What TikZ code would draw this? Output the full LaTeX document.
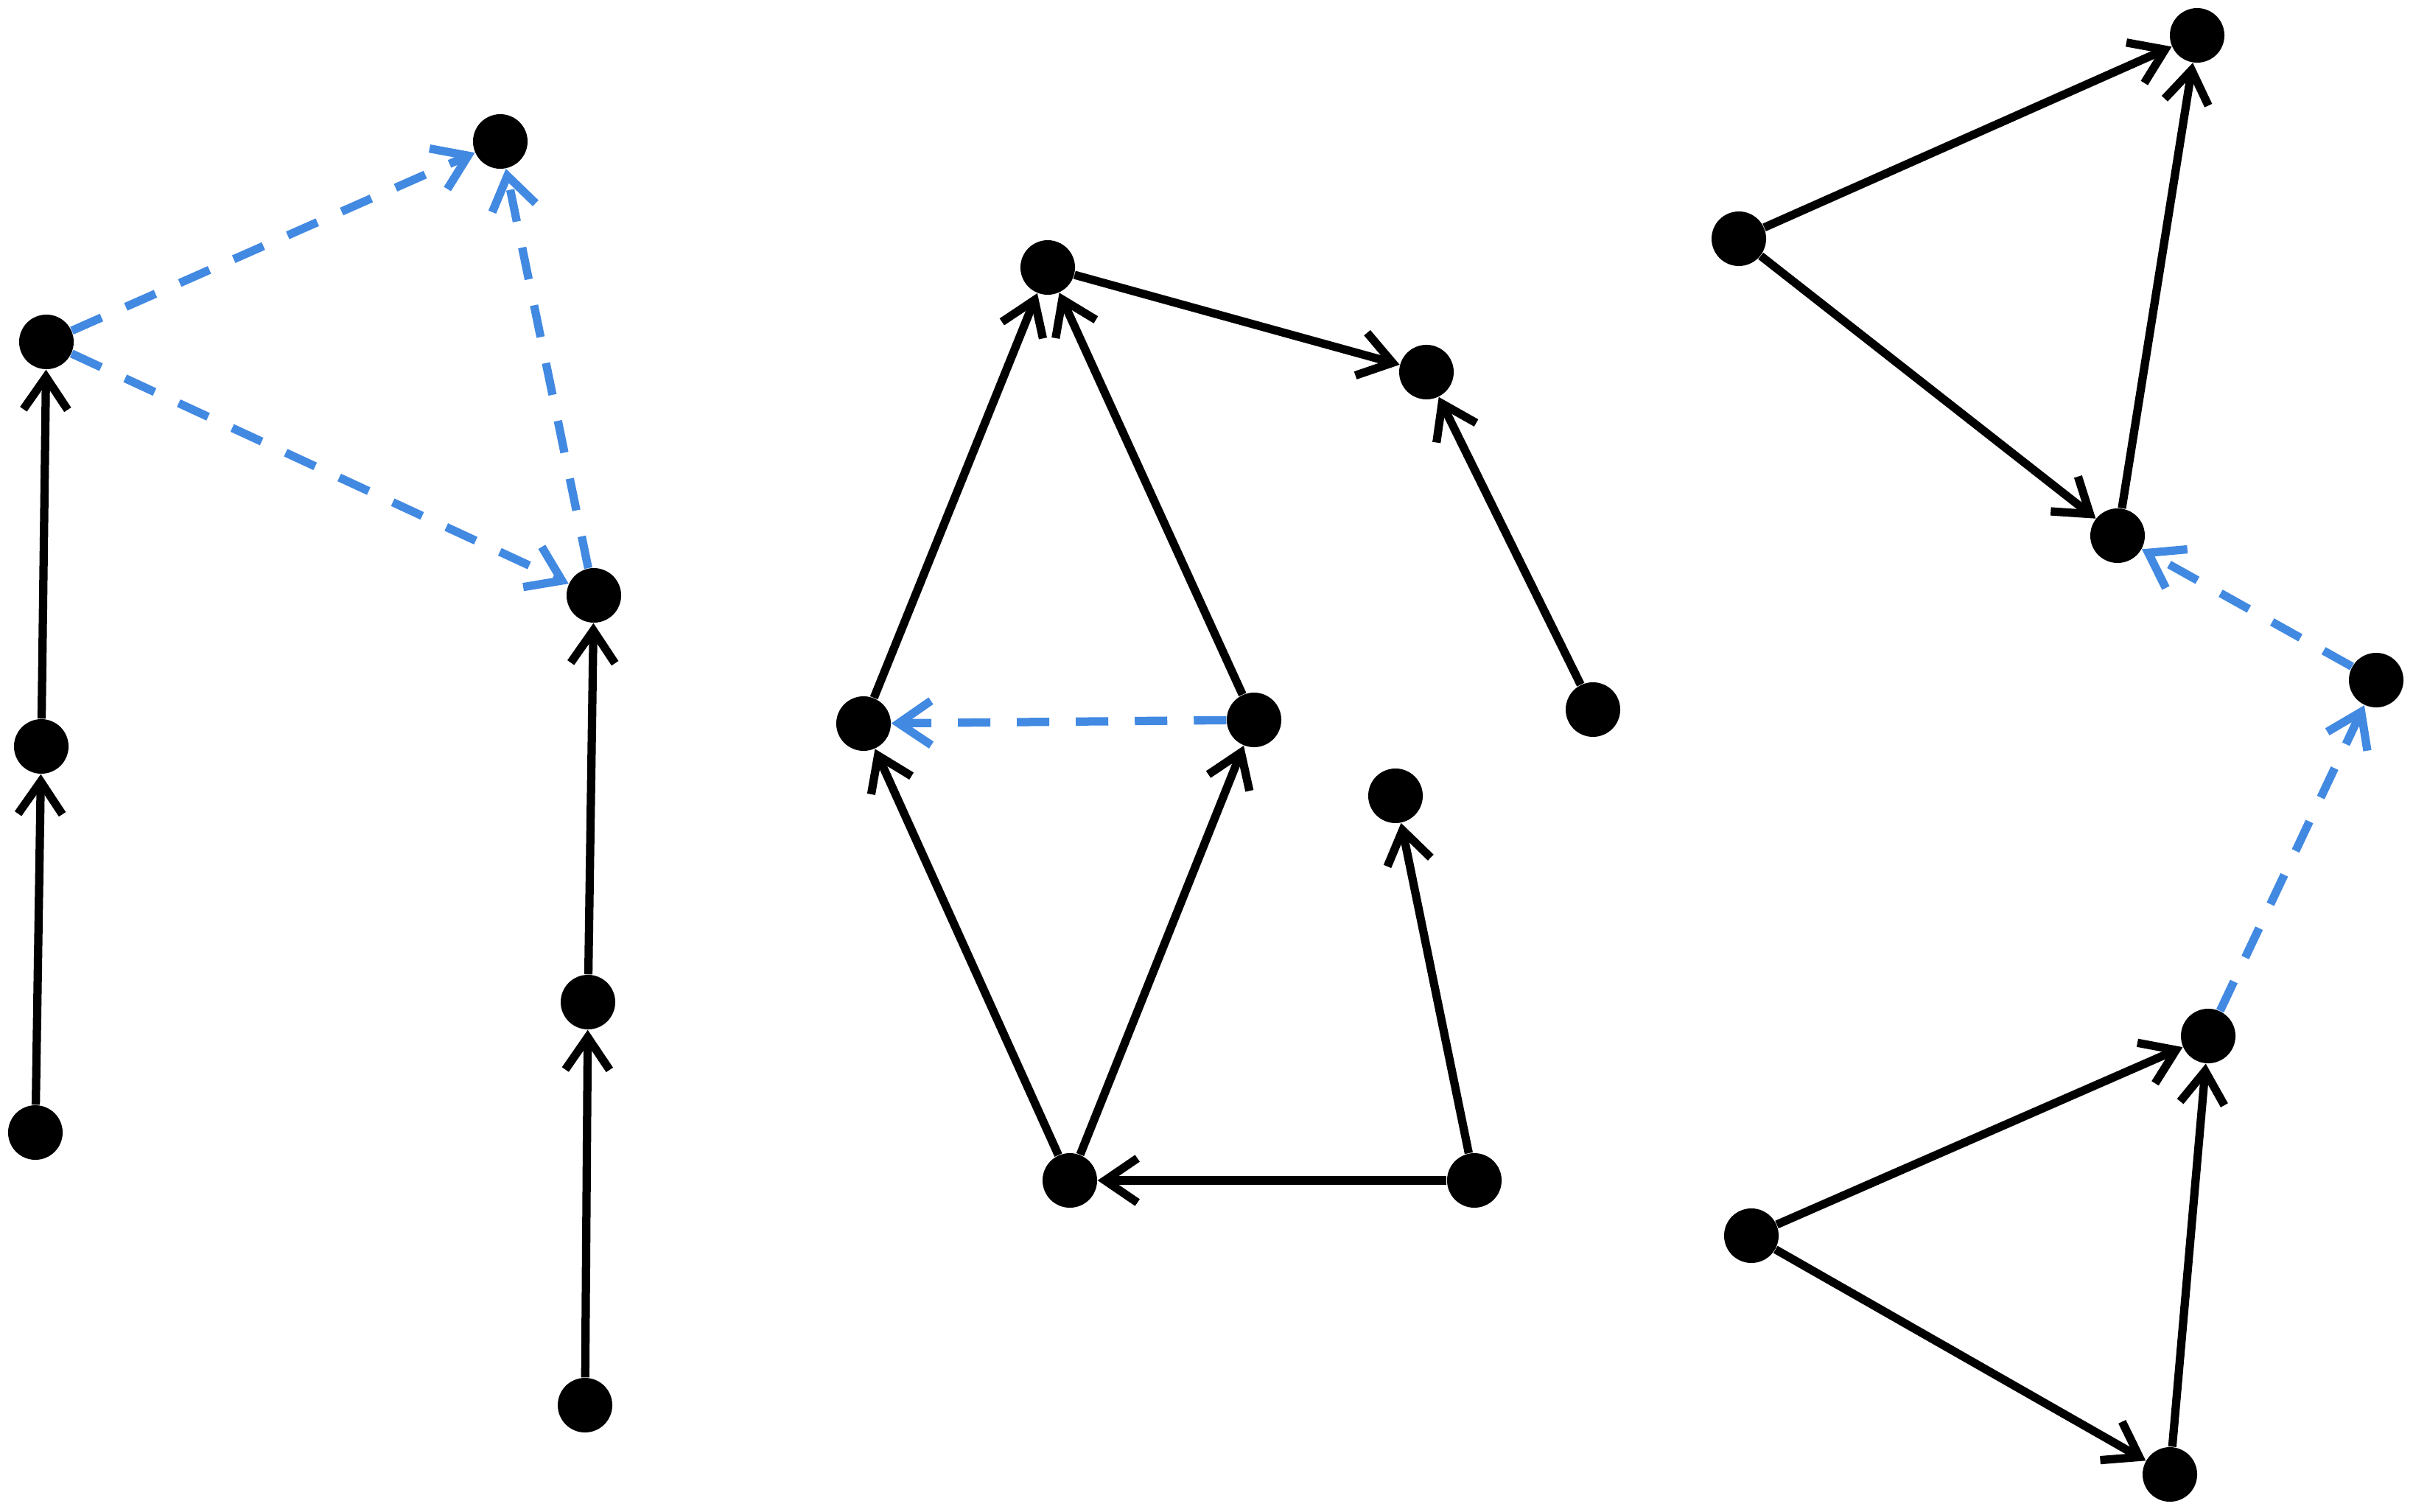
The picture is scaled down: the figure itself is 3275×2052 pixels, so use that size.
\documentclass[tikz,border=0pt]{standalone}
\usetikzlibrary{arrows.meta}
\definecolor{dashblue}{RGB}{66,137,226}
\begin{document}
\begin{tikzpicture}[x=0.01cm,y=-0.01cm,
  vtx/.style={circle,fill=black,draw=none,inner sep=0pt,minimum size=0.74cm},
  edge/.style={line width=3.2pt,black,-{Straight Barb[length=0.44cm,width=0.60cm]}},
  dedge/.style={line width=3.2pt,dashblue,dash pattern=on 0.44cm off 0.36cm,-{Straight Barb[length=0.44cm,width=0.60cm]}}]
\useasboundingbox (0,0) rectangle (3275,2052);
% left group
\node[vtx] (a1) at (63,464) {};
\node[vtx] (a2) at (56,1013) {};
\node[vtx] (a3) at (48,1537) {};
\node[vtx] (b) at (679,192) {};
\node[vtx] (c) at (806,808) {};
\node[vtx] (c2) at (798,1360) {};
\node[vtx] (c3) at (794,1907) {};
% middle group
\node[vtx] (d) at (1422,363) {};
\node[vtx] (e) at (1936,505) {};
\node[vtx] (f) at (2162,963) {};
\node[vtx] (g) at (1172,982) {};
\node[vtx] (h) at (1702,977) {};
\node[vtx] (i) at (1894,1080) {};
\node[vtx] (j) at (1452,1602) {};
\node[vtx] (k) at (2001,1602) {};
% right group
\node[vtx] (l) at (2360,324) {};
\node[vtx] (m) at (2982,48) {};
\node[vtx] (n) at (2874,727) {};
\node[vtx] (o) at (3225,923) {};
\node[vtx] (p) at (2997,1406) {};
\node[vtx] (q) at (2377,1677) {};
\node[vtx] (r) at (2945,2001) {};
% edges left
\draw[edge] (a3) -- (a2);
\draw[edge] (a2) -- (a1);
\draw[dedge] (a1) -- (b);
\draw[dedge] (a1) -- (c);
\draw[dedge] (c) -- (b);
\draw[edge] (c3) -- (c2);
\draw[edge] (c2) -- (c);
% edges middle
\draw[edge] (d) -- (e);
\draw[edge] (f) -- (e);
\draw[edge] (g) -- (d);
\draw[edge] (h) -- (d);
\draw[dedge] (h) -- (g);
\draw[edge] (j) -- (g);
\draw[edge] (j) -- (h);
\draw[edge] (k) -- (j);
\draw[edge] (k) -- (i);
% edges right
\draw[edge] (l) -- (m);
\draw[edge] (n) -- (m);
\draw[edge] (l) -- (n);
\draw[dedge] (o) -- (n);
\draw[dedge] (p) -- (o);
\draw[edge] (q) -- (p);
\draw[edge] (r) -- (p);
\draw[edge] (q) -- (r);
\end{tikzpicture}
\end{document}
